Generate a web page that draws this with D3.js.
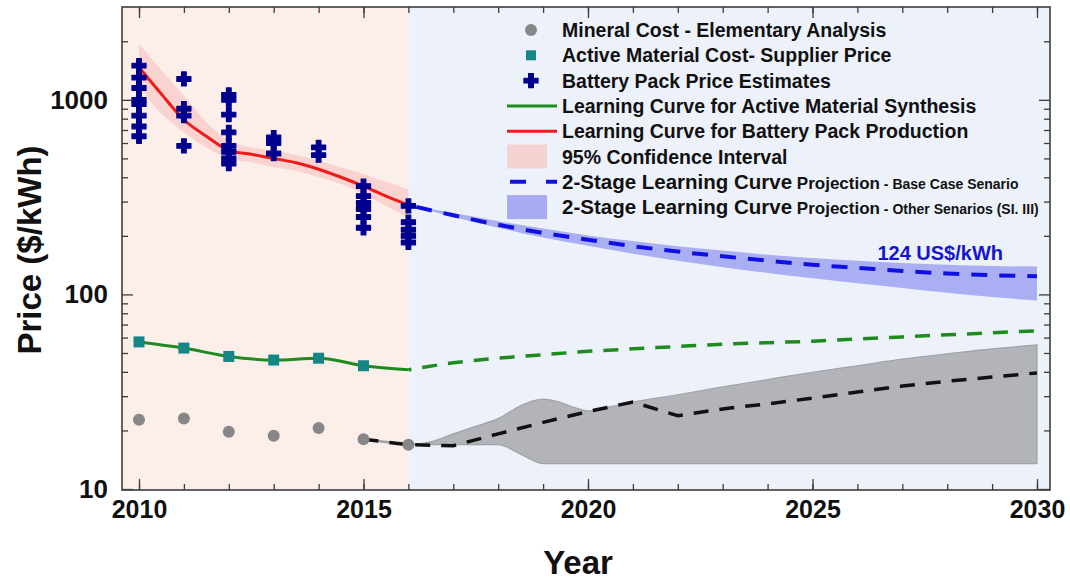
<!DOCTYPE html>
<html>
<head>
<meta charset="utf-8">
<script src="https://cdn.jsdelivr.net/npm/d3@7"></script>
<style>
  html, body { margin: 0; padding: 0; background: #ffffff; }
  svg { display: block; font-family: "Liberation Sans", Arial, sans-serif; }
</style>
</head>
<body>
<svg id="chart" width="1070" height="580"></svg>
<script>
// ---- Historic data (2010-2016) ----
const histYears = [2010, 2011, 2012, 2013, 2014, 2015, 2016];
const mineralCost = [22.7, 23.0, 19.7, 18.8, 20.6, 18.0, 16.9];
const activeMaterialYears = [2010, 2011, 2012, 2013, 2014, 2015];
const activeMaterialCost = [57, 53, 48, 46, 47, 43];
const activeCurveYears = [2010, 2011, 2012, 2013, 2014, 2015, 2016];
const activeCurve = [57, 53, 48, 46, 47, 43, 41];

// Battery pack price estimates, one list per year
const packEstimateYears = [2010, 2011, 2012, 2013, 2014, 2015, 2016];
const packEstimates = [
  [1500, 1300, 1150, 1000, 950, 830, 730, 650],
  [1280, 900, 830, 580],
  [1060, 1000, 840, 680, 580, 540, 500, 470],
  [640, 600, 530],
  [570, 520],
  [360, 320, 295, 275, 250, 220],
  [285, 235, 215, 200, 185]
];

// Learning curve for pack production with its 95% confidence interval
const packCurveYears = [2010, 2010.5, 2011, 2011.5, 2012, 2012.5, 2013, 2013.5, 2014, 2014.5, 2015, 2015.5, 2016];
const packCurve = [1470, 1070, 790, 650, 550, 525, 500, 475, 440, 400, 360, 320, 288];
const packCiUpper = [1950, 1420, 1050, 770, 617, 570, 548, 520, 486, 450, 416, 379, 347];
const packCiLower = [1150, 850, 681, 570, 497, 478, 450, 432, 400, 369, 327, 285, 248];

// ---- Projections (2016-2030) ----
const projYears = [2016, 2017, 2018, 2019, 2020, 2021, 2022, 2023, 2024, 2025, 2026, 2027, 2028, 2029, 2030];
const packProjection = [288, 255, 228, 207, 191, 177, 166, 157, 149, 142, 137, 132, 128, 125.5, 124];
const packProjUpper = [288, 262, 238, 218, 201, 188, 177, 168, 160, 154, 149, 145, 142, 140, 139];
const packProjLower = [288, 250, 220, 196, 178, 162, 149, 138, 129, 121, 114, 108, 102, 97, 93];
const activeProjection = [41, 44.5, 47, 49, 51, 52.5, 54, 55.5, 56.5, 57.5, 59, 60.5, 62, 63.5, 65];

const mineralProjYears = [2015, 2016, 2017, 2018, 2019, 2020, 2021, 2022, 2023, 2024, 2025, 2026, 2027, 2028, 2029, 2030];
const mineralProjection = [18.0, 16.9, 16.7, 19.2, 22, 25, 28, 23.8, 25.8, 27.4, 29.3, 31.5, 33.8, 35.8, 37.6, 39.5];

const mineralBandYears = [2016, 2016.5, 2017, 2017.5, 2018, 2018.5, 2019, 2019.3, 2019.8, 2020, 2020.5, 2021, 2022, 2023, 2024, 2025, 2026, 2027, 2028, 2029, 2030];
const mineralBandUpper = [16.9, 17.5, 19.2, 21, 23, 26.8, 29, 28.2, 25.8, 25.2, 26.5, 28, 30.5, 33.5, 36.5, 39.8, 43, 46.5, 49.5, 52.5, 55];
const mineralBandLower = [16.9, 16.9, 16.9, 16.9, 16.9, 15.1, 13.5, 13.5, 13.5, 13.5, 13.5, 13.5, 13.5, 13.5, 13.5, 13.5, 13.5, 13.5, 13.5, 13.5, 13.5];

// ---- Axes ----
const yearTicksMajor = [2010, 2015, 2020, 2025, 2030];
const yearTicksMinor = d3.range(2010, 2031);
const priceTicksMajor = [10, 100, 1000];
const priceTicksMinor = [20, 30, 40, 50, 60, 70, 80, 90, 200, 300, 400, 500, 600, 700, 800, 900, 2000];
const splitYear = 2016;

const legendItems = [
  {kind: "circle", label: "Mineral Cost - Elementary Analysis"},
  {kind: "square", label: "Active Material Cost- Supplier Price"},
  {kind: "cross", label: "Battery Pack Price Estimates"},
  {kind: "line", color: "#1f8a1f", label: "Learning Curve for Active Material Synthesis"},
  {kind: "line", color: "#ee1b1b", label: "Learning Curve for Battery Pack Production"},
  {kind: "rect", color: "#f5d3d3", label: "95% Confidence Interval"},
  {kind: "dash", color: "#1010e0", label: ["2-Stage Learning Curve", " Projection", " - Base Case Senario"]},
  {kind: "rect", color: "#a9abf2", label: ["2-Stage Learning Curve", " Projection", " - Other Senarios (SI. III)"]}
];

// ---- Layout ----
const plot = {left: 122, right: 1050, top: 7, bottom: 490};
const svg = d3.select("#chart");

const x = d3.scaleLinear().domain([2010, 2030]).range([139, 1037]);
const y = d3.scaleLog().domain([10, 3000]).range([489, 7]);

const colors = {
  histBg: "#fcefea",
  projBg: "#edf1fa",
  grey: "#878787",
  teal: "#168585",
  navy: "#00008f",
  green: "#1f8a1f",
  red: "#ee1b1b",
  ci: "#f7c9c5",
  blue: "#1010e0",
  blueBand: "#9ea2f0",
  greyBand: "#b2b4ba",
  frame: "#3c3c3c"
};

// Background panels
svg.append("rect")
  .attr("x", plot.left).attr("y", plot.top)
  .attr("width", x(splitYear) - plot.left).attr("height", plot.bottom - plot.top)
  .attr("fill", colors.histBg);
svg.append("rect")
  .attr("x", x(splitYear)).attr("y", plot.top)
  .attr("width", plot.right - x(splitYear)).attr("height", plot.bottom - plot.top)
  .attr("fill", colors.projBg);

const g = svg.append("g");

const zip3 = (xs, a, b) => xs.map((d, i) => ({x: d, hi: a[i], lo: b[i]}));
const zip2 = (xs, a) => xs.map((d, i) => ({x: d, v: a[i]}));

const areaGen = curve => d3.area().x(d => x(d.x)).y0(d => y(d.lo)).y1(d => y(d.hi)).curve(curve);
const lineGen = curve => d3.line().x(d => x(d.x)).y(d => y(d.v)).curve(curve);

// Blue scenario band
g.append("path")
  .datum(zip3(projYears, packProjUpper, packProjLower))
  .attr("d", areaGen(d3.curveMonotoneX))
  .attr("fill", colors.blueBand).attr("fill-opacity", 0.85);

// Mineral cost scenario band
g.append("path")
  .datum(zip3(mineralBandYears, mineralBandUpper, mineralBandLower))
  .attr("d", areaGen(d3.curveMonotoneX))
  .attr("fill", colors.greyBand)
  .attr("stroke", "#a0a2a8").attr("stroke-width", 1.2);

// Confidence interval of pack learning curve
g.append("path")
  .datum(zip3(packCurveYears, packCiUpper, packCiLower))
  .attr("d", areaGen(d3.curveMonotoneX))
  .attr("fill", colors.ci).attr("fill-opacity", 0.75);

// Grey connector 2015-2016 under the dashed mineral projection
g.append("path")
  .datum(zip2([2015, 2016], [mineralCost[5], mineralCost[6]]))
  .attr("d", lineGen(d3.curveLinear))
  .attr("fill", "none").attr("stroke", "#a0a0a0").attr("stroke-width", 2.5);

// Projection lines
g.append("path")
  .datum(zip2(projYears, activeProjection))
  .attr("d", lineGen(d3.curveMonotoneX))
  .attr("fill", "none").attr("stroke", colors.green).attr("stroke-width", 3.5)
  .attr("stroke-dasharray", "15,11").attr("stroke-dashoffset", -14);

g.append("path")
  .datum(zip2(mineralProjYears, mineralProjection))
  .attr("d", lineGen(d3.curveLinear))
  .attr("fill", "none").attr("stroke", "#111").attr("stroke-width", 3.5)
  .attr("stroke-dasharray", "15,11");

g.append("path")
  .datum(zip2(projYears, packProjection))
  .attr("d", lineGen(d3.curveMonotoneX))
  .attr("fill", "none").attr("stroke", colors.blue).attr("stroke-width", 4)
  .attr("stroke-dasharray", "16,12").attr("stroke-dashoffset", -8);

// Historic learning curves
g.append("path")
  .datum(zip2(activeCurveYears, activeCurve))
  .attr("d", lineGen(d3.curveMonotoneX))
  .attr("fill", "none").attr("stroke", colors.green).attr("stroke-width", 3);

g.append("path")
  .datum(zip2(packCurveYears, packCurve))
  .attr("d", lineGen(d3.curveMonotoneX))
  .attr("fill", "none").attr("stroke", colors.red).attr("stroke-width", 3);

// Markers
g.selectAll("circle.mineral")
  .data(zip2(histYears, mineralCost))
  .join("circle").attr("class", "mineral")
  .attr("cx", d => x(d.x)).attr("cy", d => y(d.v)).attr("r", 6)
  .attr("fill", colors.grey);

const sq = 11;
g.selectAll("rect.active")
  .data(zip2(activeMaterialYears, activeMaterialCost))
  .join("rect").attr("class", "active")
  .attr("x", d => x(d.x) - sq / 2).attr("y", d => y(d.v) - sq / 2)
  .attr("width", sq).attr("height", sq)
  .attr("fill", colors.teal);

const crossPath = d3.symbol().type(d3.symbolCross).size(110)();
const packPoints = packEstimateYears.flatMap((yr, i) => packEstimates[i].map(v => ({x: yr, v})));
g.selectAll("path.pack")
  .data(packPoints)
  .join("path").attr("class", "pack")
  .attr("transform", d => `translate(${x(d.x)},${y(d.v)})`)
  .attr("d", crossPath)
  .attr("fill", colors.navy)
  .attr("stroke", colors.navy).attr("stroke-width", 1.2).attr("stroke-linejoin", "round");

// Value label at the end of the base case projection
g.append("text")
  .attr("x", x(2030) - 34).attr("y", y(packProjection[packProjection.length - 1]) - 16)
  .attr("text-anchor", "end")
  .attr("font-size", 20).attr("font-weight", "bold").attr("fill", "#1515d0")
  .text(`${packProjection[packProjection.length - 1]} US$/kWh`);

// ---- Frame and ticks ----
const axisStyle = sel => {
  sel.select(".domain").remove();
  sel.selectAll(".tick line").attr("stroke", colors.frame).attr("stroke-width", 1.3);
  sel.selectAll(".tick text").attr("fill", "#111").attr("font-weight", "bold")
    .attr("font-family", "'Liberation Sans', Arial, sans-serif");
};

// bottom
svg.append("g").attr("transform", `translate(0,${plot.bottom})`)
  .call(d3.axisBottom(x).tickValues(yearTicksMinor).tickSize(-6).tickFormat(""))
  .call(axisStyle);
svg.append("g").attr("transform", `translate(0,${plot.bottom})`)
  .call(d3.axisBottom(x).tickValues(yearTicksMajor).tickSize(-11).tickPadding(10).tickFormat(d3.format("d")))
  .call(axisStyle)
  .call(s => s.selectAll(".tick text").attr("font-size", 25));
// top
svg.append("g").attr("transform", `translate(0,${plot.top})`)
  .call(d3.axisTop(x).tickValues(yearTicksMinor).tickSize(-6).tickFormat(""))
  .call(axisStyle);
svg.append("g").attr("transform", `translate(0,${plot.top})`)
  .call(d3.axisTop(x).tickValues(yearTicksMajor).tickSize(-11).tickFormat(""))
  .call(axisStyle);
// left
svg.append("g").attr("transform", `translate(${plot.left},0)`)
  .call(d3.axisLeft(y).tickValues(priceTicksMinor).tickSize(-6).tickFormat(""))
  .call(axisStyle);
svg.append("g").attr("transform", `translate(${plot.left},0)`)
  .call(d3.axisLeft(y).tickValues(priceTicksMajor).tickSize(-11).tickPadding(14).tickFormat(d3.format("d")))
  .call(axisStyle)
  .call(s => s.selectAll(".tick text").attr("font-size", 26));
// right
svg.append("g").attr("transform", `translate(${plot.right},0)`)
  .call(d3.axisRight(y).tickValues(priceTicksMinor).tickSize(-6).tickFormat(""))
  .call(axisStyle);
svg.append("g").attr("transform", `translate(${plot.right},0)`)
  .call(d3.axisRight(y).tickValues(priceTicksMajor).tickSize(-11).tickFormat(""))
  .call(axisStyle);

svg.append("rect")
  .attr("x", plot.left).attr("y", plot.top)
  .attr("width", plot.right - plot.left).attr("height", plot.bottom - plot.top)
  .attr("fill", "none").attr("stroke", colors.frame).attr("stroke-width", 1.6);

// Axis titles
svg.append("text")
  .attr("transform", `translate(41,250) rotate(-90)`)
  .attr("text-anchor", "middle")
  .attr("font-size", 33).attr("font-weight", "bold").attr("fill", "#111")
  .text("Price ($/kWh)");
svg.append("text")
  .attr("x", 578).attr("y", 574)
  .attr("text-anchor", "middle")
  .attr("font-size", 33).attr("font-weight", "bold").attr("fill", "#111")
  .text("Year");

// ---- Legend ----
const legend = svg.append("g").attr("transform", "translate(507,30)");
const rowH = 25.3;
legendItems.forEach((item, i) => {
  const row = legend.append("g").attr("transform", `translate(0,${i * rowH})`);
  if (item.kind === "circle") {
    row.append("circle").attr("cx", 24).attr("cy", 0).attr("r", 6).attr("fill", colors.grey);
  } else if (item.kind === "square") {
    row.append("rect").attr("x", 24 - 5).attr("y", -5).attr("width", 10).attr("height", 10).attr("fill", colors.teal);
  } else if (item.kind === "cross") {
    row.append("path").attr("transform", "translate(24,0)").attr("d", crossPath)
      .attr("fill", colors.navy).attr("stroke", colors.navy).attr("stroke-width", 1.2);
  } else if (item.kind === "line") {
    row.append("line").attr("x1", 0).attr("x2", 50).attr("y1", 0).attr("y2", 0)
      .attr("stroke", item.color).attr("stroke-width", 3);
  } else if (item.kind === "dash") {
    row.append("line").attr("x1", 3).attr("x2", 50).attr("y1", 0).attr("y2", 0)
      .attr("stroke", item.color).attr("stroke-width", 4).attr("stroke-dasharray", "16,20");
  } else if (item.kind === "rect") {
    row.append("rect").attr("x", 0).attr("y", -12).attr("width", 40).attr("height", 24)
      .attr("fill", item.color);
  }
  const t = row.append("text").attr("x", 55).attr("y", 7)
    .attr("font-weight", "bold").attr("fill", "#111").attr("font-size", 19.5);
  if (Array.isArray(item.label)) {
    t.append("tspan").attr("font-size", 20.5).text(item.label[0]);
    t.append("tspan").attr("font-size", 17).text(item.label[1]);
    t.append("tspan").attr("font-size", 14).text(item.label[2]);
  } else {
    t.text(item.label);
  }
});
</script>
</body>
</html>
